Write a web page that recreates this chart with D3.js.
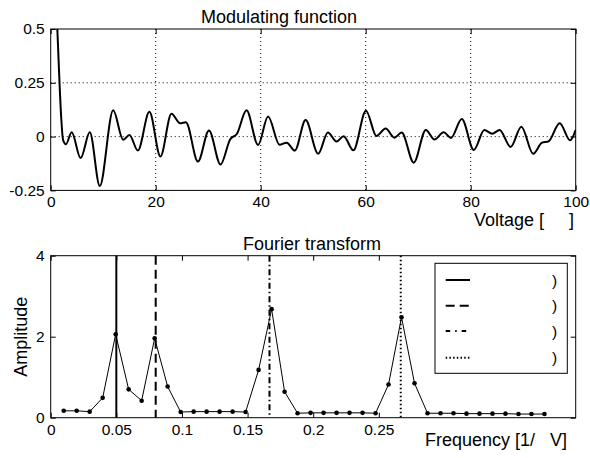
<!DOCTYPE html>
<html>
<head>
<meta charset="utf-8">
<script src="https://cdn.jsdelivr.net/npm/d3@7"></script>
<style>
  body { margin: 0; background: #fff; }
  svg { font-family: "Liberation Sans", Arial, Helvetica, sans-serif; }
  .tick text { font-size: 15.5px; fill: #000; }
  .tick line { stroke: #000; }
</style>
</head>
<body>
<section></section>
<script>
// top panel: modulating function (voltage knots)
const voltage = [0, 1.26, 2.0, 2.35, 2.9, 4.0, 5.7, 7.45, 9.35, 11.9, 13.8, 15.0, 16.6, 18.8, 20.9,
  23.0, 24.65, 25.75, 28.05, 30.15, 32.35, 34.2, 35.45, 37.3, 39.5, 41.4, 43.6, 44.95, 46.5, 48.55,
  50.95, 52.8, 54.45, 55.8, 57.65, 60.05, 62.05, 63.8, 65.45, 66.85, 69.15, 71.45, 73.1, 74.85, 76.25,
  78.3, 80.6, 82.6, 84.1, 85.5, 87.6, 89.65, 91.9, 93.6, 94.8, 96.95, 98.95, 100];
const modulation = [1.2, 0.5, 0.09, -0.015, -0.035, 0.02, -0.10, 0.02, -0.23, 0.122, -0.015, 0.008, -0.065, 0.115, -0.092,
  0.106, 0.062, 0.067, -0.116, 0.028, -0.13, -0.012, 0.012, 0.122, -0.039, 0.093, -0.038, -0.028, -0.065, 0.077,
  -0.08, 0.019, -0.023, 0.002, -0.064, 0.12, 0.003, 0.038, -0.005, 0.019, -0.121, 0.031, -0.013, 0.02, -0.006,
  0.082, -0.062, 0.031, 0.013, 0.031, -0.048, 0.046, -0.08, -0.028, -0.023, 0.062, -0.017, 0.031];
const voltTicks = [0, 20, 40, 60, 80, 100];
const modTicks = [-0.25, 0, 0.25, 0.5];

// bottom panel: fourier transform
const frequency = [0.0099, 0.0198, 0.0297, 0.0396, 0.0495, 0.0594, 0.0693, 0.0792, 0.0891, 0.0990,
  0.1089, 0.1188, 0.1287, 0.1386, 0.1485, 0.1584, 0.1683, 0.1782, 0.1881, 0.1980,
  0.2079, 0.2178, 0.2277, 0.2376, 0.2475, 0.2574, 0.2673, 0.2772, 0.2871, 0.2970,
  0.3069, 0.3168, 0.3267, 0.3366, 0.3465, 0.3564, 0.3663, 0.3762];
const amplitude = [0.17, 0.17, 0.15, 0.49, 2.06, 0.70, 0.42, 1.96, 0.77, 0.14,
  0.15, 0.15, 0.15, 0.15, 0.14, 1.18, 2.68, 0.64, 0.11, 0.12,
  0.12, 0.12, 0.12, 0.12, 0.11, 0.82, 2.48, 0.85, 0.11, 0.11,
  0.11, 0.10, 0.10, 0.10, 0.10, 0.09, 0.09, 0.09];
const markerFreqs = [0.05, 0.08, 0.1667, 0.2667];
const markerDash = ["none", "9,5", "6,3,1.5,3", "1.5,2.5"];
const legendDash = ["none", "9,5", "4.5,5,1.5,5", "1.5,2.2"];
const freqTicks = [0, 0.05, 0.1, 0.15, 0.2, 0.25];
const ampTicks = [0, 2, 4];

const svg = d3.select("section").append("svg").attr("width", 590).attr("height", 458);

const left = 50.7, right = 575.7;

// ---------- top panel ----------
const x1 = d3.scaleLinear().domain([0, 100]).range([left, right]);
const y1 = d3.scaleLinear().domain([-0.25, 0.5]).range([190.4, 29]);

svg.append("defs").append("clipPath").attr("id", "clip1")
  .append("rect").attr("x", left).attr("y", 29).attr("width", right - left).attr("height", 190.4 - 29);

// grid
const grid = svg.append("g").attr("stroke", "#000").attr("stroke-width", 1).attr("stroke-dasharray", "1,3");
grid.selectAll(".gx").data(voltTicks.slice(1, -1)).enter().append("line")
  .attr("x1", d => x1(d)).attr("x2", d => x1(d)).attr("y1", 29).attr("y2", 190.4);
grid.selectAll(".gy").data(modTicks.slice(1, -1)).enter().append("line")
  .attr("x1", left).attr("x2", right).attr("y1", d => y1(d)).attr("y2", d => y1(d));

svg.append("g").attr("transform", "translate(0,190.4)")
  .call(d3.axisBottom(x1).tickValues(voltTicks).tickFormat(d => String(d)).tickSize(-5).tickPadding(6))
  .call(g => g.select(".domain").remove());
svg.append("g").attr("transform", "translate(0,29)")
  .call(d3.axisTop(x1).tickValues(voltTicks).tickFormat("").tickSize(-5))
  .call(g => g.select(".domain").remove());
svg.append("g").attr("transform", `translate(${left},0)`)
  .call(d3.axisLeft(y1).tickValues(modTicks).tickFormat(d => String(d)).tickSize(-5).tickPadding(6))
  .call(g => g.select(".domain").remove());
svg.append("g").attr("transform", `translate(${right},0)`)
  .call(d3.axisRight(y1).tickValues(modTicks).tickFormat("").tickSize(-5))
  .call(g => g.select(".domain").remove());

const line1 = d3.line().x((d, i) => x1(voltage[i])).y(d => y1(d)).curve(d3.curveMonotoneX);
svg.append("path").datum(modulation).attr("clip-path", "url(#clip1)")
  .attr("d", line1).attr("fill", "none").attr("stroke", "#000").attr("stroke-width", 2);

svg.append("rect").attr("x", left).attr("y", 29).attr("width", right - left).attr("height", 190.4 - 29)
  .attr("fill", "none").attr("stroke", "#000").attr("stroke-width", 1);

svg.append("text").attr("x", 279).attr("y", 23.3).attr("text-anchor", "middle")
  .style("font-size", "18px").text("Modulating function");
svg.append("text").attr("x", 574).attr("y", 225.5).attr("text-anchor", "end")
  .style("font-size", "18px").style("white-space", "pre").text("Voltage [     ]");

// ---------- bottom panel ----------
const x2 = d3.scaleLinear().domain([0, 0.4]).range([left, right]);
const y2 = d3.scaleLinear().domain([0, 4]).range([417.7, 255.7]);

svg.append("g").attr("transform", "translate(0,417.7)")
  .call(d3.axisBottom(x2).tickValues(freqTicks).tickFormat(d => String(d)).tickSize(-5).tickPadding(6))
  .call(g => g.select(".domain").remove());
svg.append("g").attr("transform", "translate(0,255.7)")
  .call(d3.axisTop(x2).tickValues(freqTicks).tickFormat("").tickSize(-5))
  .call(g => g.select(".domain").remove());
svg.append("g").attr("transform", `translate(${left},0)`)
  .call(d3.axisLeft(y2).tickValues(ampTicks).tickFormat(d => String(d)).tickSize(-5).tickPadding(6))
  .call(g => g.select(".domain").remove());
svg.append("g").attr("transform", `translate(${right},0)`)
  .call(d3.axisRight(y2).tickValues(ampTicks).tickFormat("").tickSize(-5))
  .call(g => g.select(".domain").remove());

svg.selectAll(".marker").data(markerFreqs).enter().append("line")
  .attr("x1", d => x2(d)).attr("x2", d => x2(d)).attr("y1", y2(4)).attr("y2", y2(0))
  .attr("stroke", "#000").attr("stroke-width", 2)
  .attr("stroke-dasharray", (d, i) => markerDash[i]);

const line2 = d3.line().x((d, i) => x2(frequency[i])).y(d => y2(d));
svg.append("path").datum(amplitude).attr("d", line2)
  .attr("fill", "none").attr("stroke", "#000").attr("stroke-width", 1);
svg.selectAll(".pt").data(amplitude).enter().append("circle")
  .attr("cx", (d, i) => x2(frequency[i])).attr("cy", d => y2(d)).attr("r", 2.3).attr("fill", "#000");

// legend
const legend = svg.append("g");
legend.append("rect").attr("x", 435).attr("y", 263.3).attr("width", 132.3).attr("height", 110)
  .attr("fill", "#fff").attr("stroke", "#000").attr("stroke-width", 1);
const legendY = [280, 305.7, 331, 357.7];
legend.selectAll(".ll").data(legendY).enter().append("line")
  .attr("x1", 445.7).attr("x2", 470).attr("y1", d => d).attr("y2", d => d)
  .attr("stroke", "#000").attr("stroke-width", 2)
  .attr("stroke-dasharray", (d, i) => legendDash[i]);
legend.selectAll(".lt").data(legendY).enter().append("text")
  .attr("x", 552).attr("y", d => d + 5.5).style("font-size", "15.5px").text(")");

svg.append("rect").attr("x", left).attr("y", 255.7).attr("width", right - left).attr("height", 417.7 - 255.7)
  .attr("fill", "none").attr("stroke", "#000").attr("stroke-width", 1);

svg.append("text").attr("x", 312).attr("y", 250).attr("text-anchor", "middle")
  .style("font-size", "18px").text("Fourier transform");
svg.append("text").attr("x", 567).attr("y", 446).attr("text-anchor", "end")
  .style("font-size", "18px").style("white-space", "pre").text("Frequency [1/   V]");
svg.append("text").attr("transform", "translate(26.5,336.7) rotate(-90)").attr("text-anchor", "middle")
  .style("font-size", "18px").text("Amplitude");
</script>
</body>
</html>
